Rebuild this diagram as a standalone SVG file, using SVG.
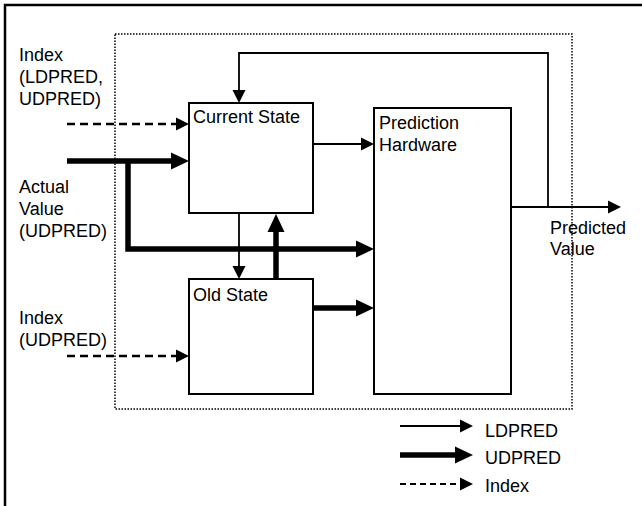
<svg xmlns="http://www.w3.org/2000/svg" width="642" height="506" viewBox="0 0 642 506">
<defs>
<style>
text{font-family:"Liberation Sans",Arial,sans-serif;font-size:18px;fill:#000}
.box{fill:#fff;stroke:#000;stroke-width:2}
.thin{fill:none;stroke:#000;stroke-width:1.8;marker-end:url(#ah)}
.thick{fill:none;stroke:#000;stroke-width:5.5;marker-end:url(#ahb)}
.dash{fill:none;stroke:#000;stroke-width:2.4;stroke-dasharray:8,5;marker-end:url(#ah)}
.ldash{fill:none;stroke:#000;stroke-width:2;stroke-dasharray:6,4;marker-end:url(#ah)}
</style>
<marker id="ah" markerUnits="userSpaceOnUse" viewBox="0 -7 13 14" refX="1" refY="0" markerWidth="13" markerHeight="14" orient="auto">
<path d="M0,-6.5 L13,0 L0,6.5 z" fill="#000"/>
</marker>
<marker id="ahb" markerUnits="userSpaceOnUse" viewBox="0 -9 18 18" refX="1" refY="0" markerWidth="18" markerHeight="18" orient="auto">
<path d="M0,-8.5 L18,0 L0,8.5 z" fill="#000"/>
</marker>
</defs>
<polyline points="5,506 5,5 642,5" fill="none" stroke="#000" stroke-width="2.5"/>
<rect x="115" y="34" width="457" height="375" fill="none" stroke="#000" stroke-width="1.5" stroke-dasharray="1.5,1.5"/>
<g id="labels">
<text x="19" y="61">Index</text>
<text x="19" y="83">(LDPRED,</text>
<text x="19" y="105">UDPRED)</text>
<text x="19" y="193">Actual</text>
<text x="19" y="215">Value</text>
<text x="19" y="237">(UDPRED)</text>
<text x="19" y="324">Index</text>
<text x="19" y="346">(UDPRED)</text>
<text x="550" y="234">Predicted</text>
<text x="550" y="255">Value</text>
</g>
<g id="current-state">
<rect class="box" x="189" y="103" width="124" height="110"/>
<text x="193" y="123">Current State</text>
</g>
<g id="old-state">
<rect class="box" x="189" y="279" width="124" height="115"/>
<text x="193" y="301">Old State</text>
</g>
<g id="prediction-hardware">
<rect class="box" x="374" y="108" width="137" height="286"/>
<text x="379" y="129">Prediction</text>
<text x="379" y="151">Hardware</text>
</g>
<g id="connectors">
<path class="dash" d="M67,124 H177"/>
<path class="thick" d="M67,161 H172"/>
<path class="thick" d="M128,161 V249 H357"/>
<path class="thin" d="M313,144 H362"/>
<path class="thin" d="M239,213 V267"/>
<path class="thick" d="M276,279 V231"/>
<path class="thick" d="M313,308 H357"/>
<path class="dash" d="M67,356 H177"/>
<path class="thin" d="M511,207 H609"/>
<path class="thin" d="M548,207 V53 H239 V91"/>
</g>
<g id="legend">
<path class="thin" d="M400,426 H461"/>
<text x="485" y="437">LDPRED</text>
<path class="thick" d="M400,455 H456"/>
<text x="485" y="464">UDPRED</text>
<path class="ldash" d="M400,484 H461"/>
<text x="485" y="492">Index</text>
</g>
</svg>
